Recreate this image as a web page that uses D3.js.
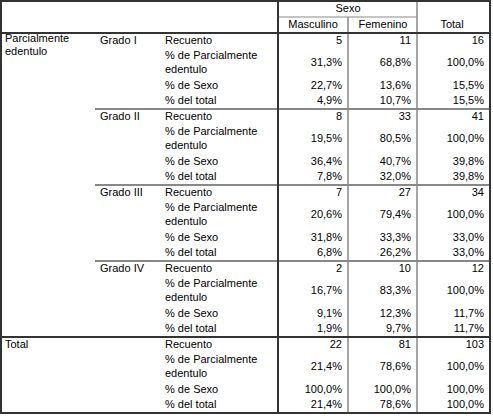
<!DOCTYPE html>
<html><head><meta charset="utf-8">
<script src="https://cdn.jsdelivr.net/npm/d3@7"></script>
<style>body{margin:0;background:#fff}text{font-family:"Liberation Sans",Arial,sans-serif;font-size:11px;fill:#000}</style>
</head><body><svg id="chart" width="493" height="420"></svg>
<script>
var groups = ["Grado I", "Grado II", "Grado III", "Grado IV", "Total"]
var stats = ["Recuento", "% de Parcialmente|edentulo", "% de Sexo", "% del total"]
var columns = ["Masculino", "Femenino", "Total"]
var masculino = [["5","31,3%","22,7%","4,9%"],["8","19,5%","36,4%","7,8%"],["7","20,6%","31,8%","6,8%"],["2","16,7%","9,1%","1,9%"],["22","21,4%","100,0%","21,4%"]]
var femenino = [["11","68,8%","13,6%","10,7%"],["33","80,5%","40,7%","32,0%"],["27","79,4%","33,3%","26,2%"],["10","83,3%","12,3%","9,7%"],["81","78,6%","100,0%","78,6%"]]
var total = [["16","100,0%","15,5%","15,5%"],["41","100,0%","39,8%","39,8%"],["34","100,0%","33,0%","33,0%"],["12","100,0%","11,7%","11,7%"],["103","100,0%","100,0%","100,0%"]]

var svg = d3.select("#chart")
var W = 490, top0 = 33, blockH = 76
var rowOff = [0, 15, 45, 60, 76]
var colX = d3.scaleOrdinal().domain(columns).range([278, 348, 417])
var colR = d3.scaleOrdinal().domain(columns).range([342, 411, 484])
var yBlock = d3.scaleLinear().domain([0, 5]).range([top0, top0 + 5 * blockH])
var grey = "#888", dark = "#333"

function line(x1, y1, x2, y2, c, w) {
    svg.append("line").attr("x1", x1).attr("y1", y1).attr("x2", x2).attr("y2", y2)
        .attr("stroke", c).attr("stroke-width", w)
}

// header
svg.append("text").attr("x", 348).attr("y", 12).attr("text-anchor", "middle").text("Sexo")
columns.forEach(function(c, i) {
    svg.append("text").attr("x", colX(c) + 35)
        .attr("y", 28).attr("text-anchor", "middle").text(c)
})
svg.append("text").attr("x", 5).attr("y", 42).text("Parcialmente")
svg.append("text").attr("x", 5).attr("y", 55).text("edentulo")

var data = [masculino, femenino, total]
groups.forEach(function(g, gi) {
    var y0 = yBlock(gi)
    svg.append("text").attr("x", gi < 4 ? 100 : 5).attr("y", y0 + 11).text(g)
    stats.forEach(function(s, si) {
        var parts = s.split("|")
        var ys = y0 + rowOff[si] + 11
        parts.forEach(function(p, pi) {
            svg.append("text").attr("x", 165).attr("y", ys + pi * 14).text(p)
        })
        var yv = si == 1 ? ys + 7 : ys
        columns.forEach(function(c, ci) {
            svg.append("text").attr("x", colR(c)).attr("y", yv).attr("text-anchor", "end").text(data[ci][gi][si])
        })
    })
    if (gi > 0 && gi < 4) line(95, y0, W, y0, grey, 2)
})

// lines
line(278, 17, 417, 17, grey, 1)
line(348, 17, 348, yBlock(5), grey, 1.5)
line(417, 0, 417, yBlock(5), grey, 1.5)
line(278, 0, 278, yBlock(5), dark, 2)
line(0, top0, W, top0, dark, 2)
line(0, yBlock(4), W, yBlock(4), dark, 2)
svg.append("rect").attr("x", 1).attr("y", 1).attr("width", W - 1).attr("height", yBlock(5) - 1)
    .attr("fill", "none").attr("stroke", dark).attr("stroke-width", 2)
</script></body></html>
